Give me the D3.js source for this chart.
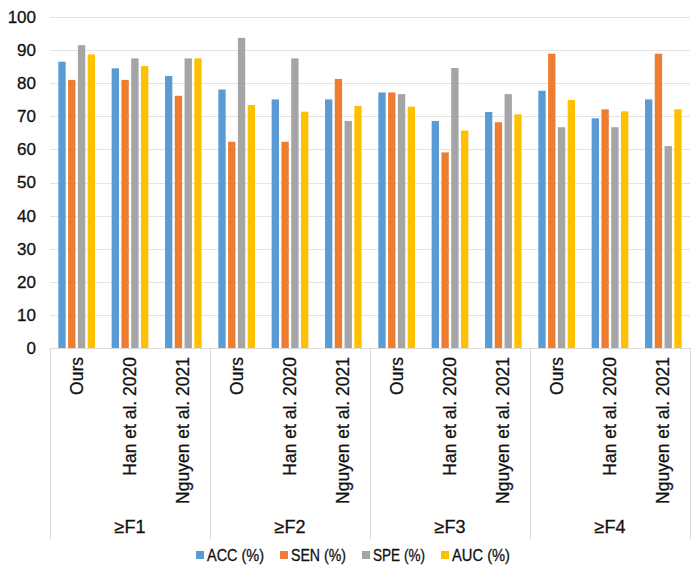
<!DOCTYPE html>
<html>
<head>
<meta charset="utf-8">
<script src="https://cdn.jsdelivr.net/npm/d3@7"></script>
<style>
  html, body { margin: 0; padding: 0; background: #fff; }
  svg { display: block; font-family: "Liberation Sans", Arial, sans-serif; }
  .lbl { fill: #111; stroke: #111; stroke-width: 0.3px; }
</style>
</head>
<body>
<svg id="chart" width="698" height="572"></svg>
<script>
const groups = ["≥F1", "≥F2", "≥F3", "≥F4"];
const methods = ["Ours", "Han et al. 2020", "Nguyen et al. 2021"];
const seriesNames = ["ACC (%)", "SEN (%)", "SPE (%)", "AUC (%)"];
const seriesColors = ["#5b9bd5", "#ed7d31", "#a5a5a5", "#ffc000"];
// values per category (group x method), order: Ours, Han, Nguyen for each group
const ACC = [86.5, 84.5, 82.2, 78.1, 75.1, 75.1, 77.2, 68.6, 71.3, 77.7, 69.4, 75.1];
const SEN = [81.0, 81.0, 76.2, 62.3, 62.3, 81.3, 77.2, 59.1, 68.2, 88.9, 72.1, 88.9];
const SPE = [91.5, 87.5, 87.5, 93.7, 87.5, 68.6, 76.7, 84.6, 76.7, 66.7, 66.7, 61.0];
const AUC = [88.7, 85.2, 87.5, 73.4, 71.4, 73.1, 72.9, 65.7, 70.6, 74.9, 71.5, 72.1];
const yTicks = [0, 10, 20, 30, 40, 50, 60, 70, 80, 90, 100];

(function () {
const seriesValues = [ACC, SEN, SPE, AUC];
const cats = [];
groups.forEach(g => methods.forEach(m => cats.push(g + "|" + m)));

const svg = d3.select("#chart");
const pLeft = 50, pRight = 690, pTop = 17, pBottom = 348;

const x0 = d3.scaleBand().domain(cats).range([pLeft, pRight]).padding(0);
const bw = x0.bandwidth();
const x1 = d3.scaleBand().domain(seriesNames).range([bw * 0.156, bw * 0.844]).paddingInner(0.25).paddingOuter(0);
const y = d3.scaleLinear().domain([0, 100]).range([pBottom, pTop]);

// gridlines
svg.append("g").selectAll("line").data(yTicks.filter(t => t > 0)).join("line")
  .attr("x1", pLeft).attr("x2", pRight)
  .attr("y1", d => Math.round(y(d)) + 0.5).attr("y2", d => Math.round(y(d)) + 0.5)
  .attr("stroke", "#e3e3e3").attr("stroke-width", 1);

// y axis labels
const yAxis = d3.axisLeft(y).tickValues(yTicks).tickSize(0).tickPadding(14);
const yg = svg.append("g").attr("transform", `translate(${pLeft},0)`).call(yAxis);
yg.select(".domain").remove();
yg.selectAll("text").attr("class", "lbl").attr("font-size", 17).attr("font-family", "Liberation Sans, Arial, sans-serif");

// bars
const data = [];
cats.forEach((c, i) => seriesNames.forEach((s, j) => data.push({ c, s, v: seriesValues[j][i], color: seriesColors[j] })));
svg.append("g").selectAll("rect").data(data).join("rect")
  .attr("x", d => x0(d.c) + x1(d.s))
  .attr("width", x1.bandwidth())
  .attr("y", d => y(d.v))
  .attr("height", d => y(0) - y(d.v))
  .attr("fill", d => d.color);

// x axis baseline
svg.append("line").attr("x1", pLeft).attr("x2", pRight).attr("y1", pBottom + 0.5).attr("y2", pBottom + 0.5)
  .attr("stroke", "#d9d9d9").attr("stroke-width", 1);

// category labels (rotated)
const xAxis = d3.axisBottom(x0).tickSize(0).tickFormat(d => d.split("|")[1]);
const xg = svg.append("g").attr("transform", `translate(0,${pBottom})`).call(xAxis);
xg.select(".domain").remove();
xg.selectAll("text")
  .attr("class", "lbl")
  .attr("font-size", 17.5)
  .attr("font-family", "Liberation Sans, Arial, sans-serif")
  .attr("transform", "rotate(-90)")
  .attr("text-anchor", "end")
  .attr("x", -9).attr("y", 0).attr("dy", "0.35em");

// group separators
const gScale = d3.scaleBand().domain(groups).range([pLeft, pRight]).padding(0);
const seps = groups.map(g => gScale(g)).concat([pRight]);
svg.append("g").selectAll("line").data(seps).join("line")
  .attr("x1", d => Math.round(d) + 0.5).attr("x2", d => Math.round(d) + 0.5)
  .attr("y1", pBottom).attr("y2", 539)
  .attr("stroke", "#d9d9d9").attr("stroke-width", 1);

// group labels
svg.append("g").selectAll("text").data(groups).join("text")
  .attr("class", "lbl")
  .attr("x", d => gScale(d) + gScale.bandwidth() / 2)
  .attr("y", 533)
  .attr("text-anchor", "middle")
  .attr("font-size", 18)
  .text(d => d);

// legend
const lg = svg.append("g");
const items = lg.selectAll("g").data(seriesNames).join("g");
items.append("rect").attr("width", 8).attr("height", 8).attr("y", -4).attr("fill", (d, i) => seriesColors[i]);
items.append("text").attr("class", "lbl").attr("x", 11).attr("y", 0).attr("dy", "0.36em")
  .attr("font-size", 16).attr("textLength", (d, i) => [57, 55, 52, 58][i]).attr("lengthAdjust", "spacingAndGlyphs")
  .text(d => d);
let cx = 0;
items.each(function () {
  d3.select(this).attr("transform", `translate(${cx},555)`);
  cx += this.getBBox().width + 16;
});
const totalW = cx - 16;
lg.attr("transform", `translate(${353 - totalW / 2},0)`);
})();
</script>
</body>
</html>
